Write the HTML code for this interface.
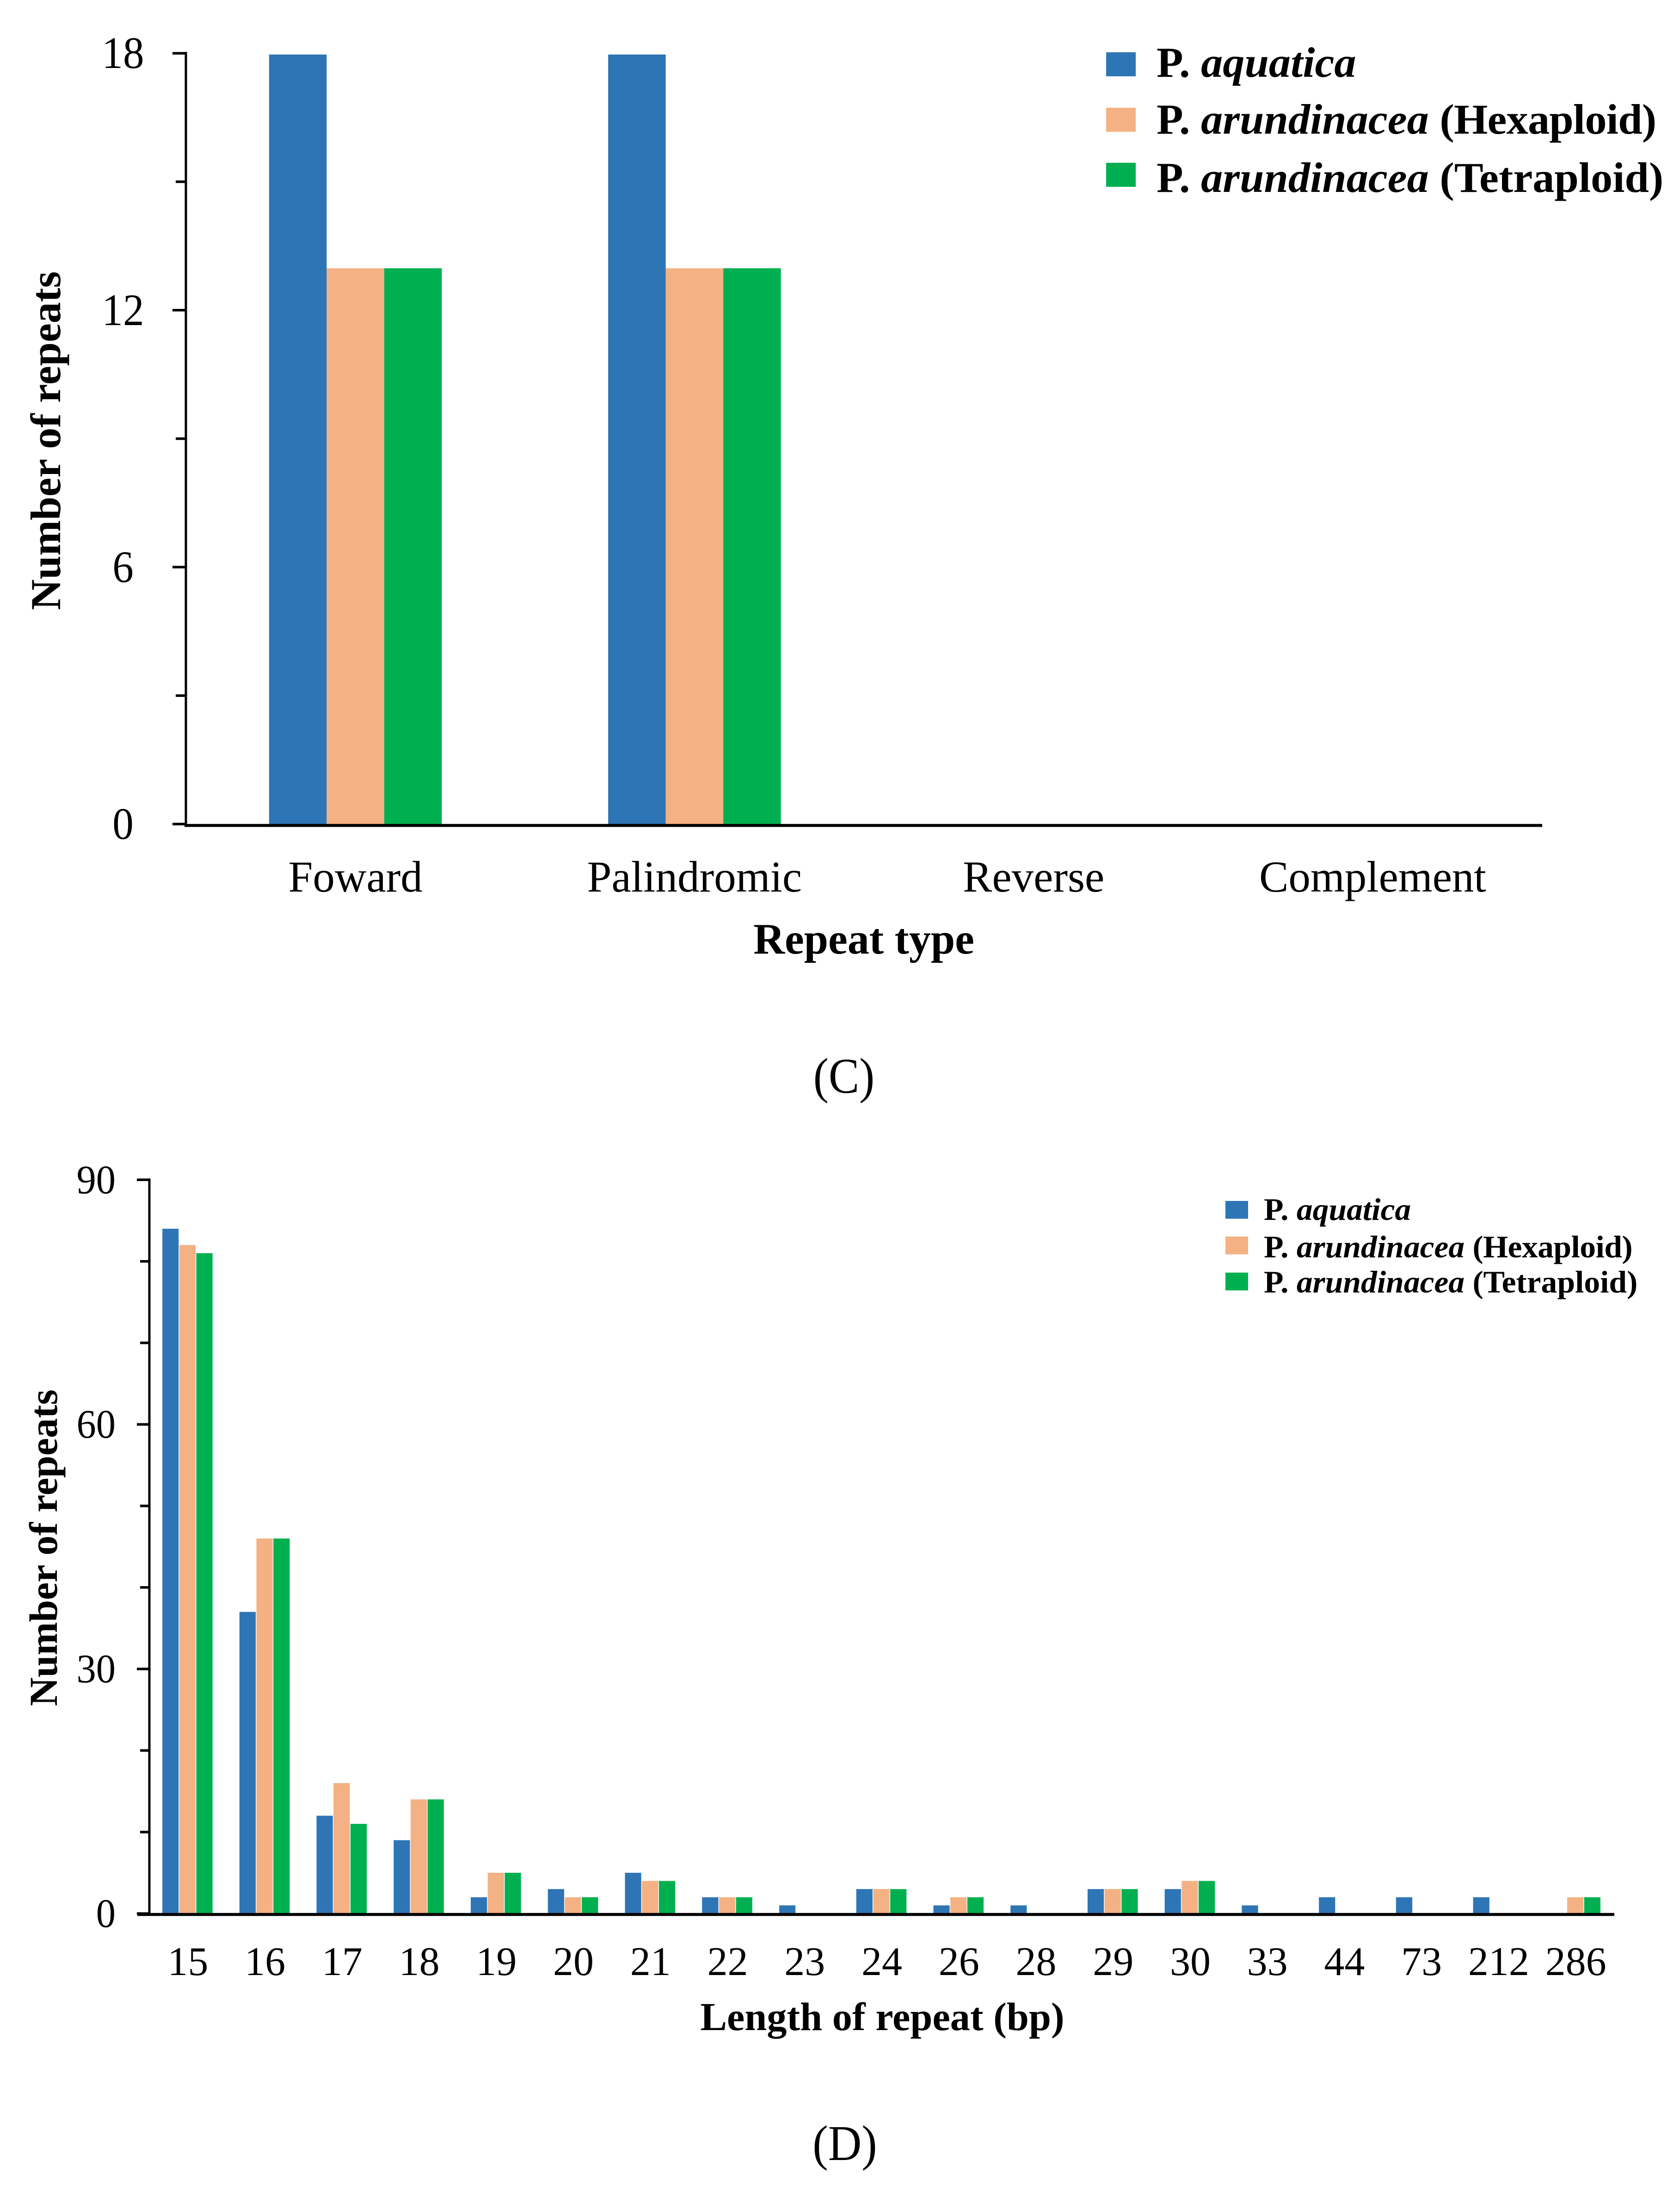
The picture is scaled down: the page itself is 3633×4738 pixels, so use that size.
<!DOCTYPE html>
<html lang="en">
<head>
<meta charset="utf-8">
<title>Repeat type and repeat length charts</title>
<style>
html,body{margin:0;padding:0;background:#fff;}
svg{display:block;}
text{font-family:"Liberation Serif","Times New Roman",serif;fill:#000;}
.b{font-weight:bold;}
.i{font-style:italic;}
</style>
</head>
<body>
<svg id="figure" xmlns="http://www.w3.org/2000/svg" width="3633" height="4738" viewBox="0 0 3633 4738">
  <rect x="0" y="0" width="3633" height="4738" fill="#ffffff"/>

  <g id="chart-c"></g>
  <g id="chart-d"></g>

  <text class="b" font-size="92" text-anchor="middle" transform="translate(130,953) rotate(-90)">Number of repeats</text>
  <text class="b" font-size="94" text-anchor="middle" x="1868" y="2062">Repeat type</text>
  <text font-size="108" text-anchor="middle" transform="translate(1825,2363) scale(0.92,1)">(C)</text>

  <g>
    <g>
      <rect x="2392" y="113" width="64" height="52" fill="#2e75b6"/>
      <text class="b" font-size="92.5" transform="translate(2501,166) scale(1.02,1)">P. <tspan class="i">aquatica</tspan></text>
    </g>
    <g>
      <rect x="2392" y="233" width="64" height="52" fill="#f4b183"/>
      <text class="b" font-size="92.5" transform="translate(2501,289) scale(1.02,1)">P. <tspan class="i">arundinacea</tspan> <tspan letter-spacing="-0.8">(Hexaploid)</tspan></text>
    </g>
    <g>
      <rect x="2392" y="352" width="64" height="52" fill="#00b050"/>
      <text class="b" font-size="92.5" transform="translate(2501,415) scale(1.02,1)">P. <tspan class="i">arundinacea</tspan> (Tetraploid)</text>
    </g>
  </g>

  <text class="b" font-size="86" text-anchor="middle" transform="translate(123,3347) rotate(-90)">Number of repeats</text>
  <text class="b" font-size="86" text-anchor="middle" transform="translate(1908,4390) scale(1.004,1)">Length of repeat (bp)</text>
  <text font-size="108" text-anchor="middle" transform="translate(1827,4671) scale(0.93,1)">(D)</text>

  <g>
    <g>
      <rect x="2650" y="2597" width="49" height="38.5" fill="#2e75b6"/>
      <text class="b" font-size="68" transform="translate(2733,2638) scale(1.023,1)">P. <tspan class="i">aquatica</tspan></text>
    </g>
    <g>
      <rect x="2650" y="2674" width="49" height="38.5" fill="#f4b183"/>
      <text class="b" font-size="68" transform="translate(2733,2719) scale(1.023,1)">P. <tspan class="i">arundinacea</tspan> <tspan letter-spacing="-0.55">(Hexaploid)</tspan></text>
    </g>
    <g>
      <rect x="2650" y="2752" width="49" height="38.5" fill="#00b050"/>
      <text class="b" font-size="68" transform="translate(2733,2795) scale(1.023,1)">P. <tspan class="i">arundinacea</tspan> (Tetraploid)</text>
    </g>
  </g>
</svg>

<script>
// Chart C data
const typeCategories = ['Foward', 'Palindromic', 'Reverse', 'Complement'];
const typeAquatica = [18, 18, 0, 0];
const typeHexaploid = [13, 13, 0, 0];
const typeTetraploid = [13, 13, 0, 0];
const typeTicks = [0, 3, 6, 9, 12, 15, 18];
const typeTickLabels = ['0', '', '6', '', '12', '', '18'];

// Chart D data
const lengthCategories = ['15', '16', '17', '18', '19', '20', '21', '22', '23', '24', '26', '28', '29', '30', '33', '44', '73', '212', '286'];
const lengthAquatica = [84, 37, 12, 9, 2, 3, 5, 2, 1, 3, 1, 1, 3, 3, 1, 2, 2, 2, 0];
const lengthHexaploid = [82, 46, 16, 14, 5, 2, 4, 2, 0, 3, 2, 0, 3, 4, 0, 0, 0, 0, 2];
const lengthTetraploid = [81, 46, 11, 14, 5, 2, 4, 2, 0, 3, 2, 0, 3, 4, 0, 0, 0, 0, 2];
const lengthTicks = [0, 10, 20, 30, 40, 50, 60, 70, 80, 90];
const lengthTickLabels = ['0', '', '', '30', '', '', '60', '', '', '90'];

const seriesKeys = ['aquatica', 'hexaploid', 'tetraploid'];
const seriesColors = ['#2e75b6', '#f4b183', '#00b050'];

const NS = 'http://www.w3.org/2000/svg';

function make(parent, tag, props) {
  const el = document.createElementNS(NS, tag);
  for (const k in props) el.setAttribute(k, props[k]);
  parent.appendChild(el);
  return el;
}

function drawChart(root, prefix, cfg) {
  const n = cfg.categories.length;
  const bandW = (cfg.plotRight - cfg.plotLeft) / n;
  const xCenter = function (i) { return cfg.plotLeft + bandW * (i + 0.5); };

  cfg.series.forEach(function (values, s) {
    values.forEach(function (v, i) {
      const yTop = cfg.barY(v);
      const x = xCenter(i) + cfg.barShift + (s - 1) * cfg.barStep - cfg.barWidth / 2;
      const bar = make(root, 'rect', { x: x, y: yTop, width: cfg.barWidth, height: Math.max(0, cfg.barY(0) - yTop), fill: seriesColors[s] });
      
      
    });
  });

  const yAxis = make(root, 'line', { x1: cfg.plotLeft, x2: cfg.plotLeft, y1: cfg.tickY(cfg.ticks[cfg.ticks.length - 1]) - 3, y2: cfg.axisY, stroke: '#000', 'stroke-width': cfg.yAxisWidth });
  
  

  const xAxis = make(root, 'line', { x1: cfg.xAxisStart, x2: cfg.plotRight, y1: cfg.axisY, y2: cfg.axisY, stroke: '#000', 'stroke-width': 6.5 });
  
  

  cfg.ticks.forEach(function (t, i) {
    const label = cfg.tickLabels[i];
    const major = label !== '';
    const y = cfg.tickY(t);
    const tick = make(root, 'line', { x1: cfg.plotLeft - (major ? cfg.majorLen : cfg.minorLen), x2: cfg.plotLeft, y1: y, y2: y, stroke: '#000', 'stroke-width': 5.5 });
    
    
    if (major) {
      const txt = make(root, 'text', { transform: 'translate(' + cfg.tickLabelX + ',' + (y + cfg.tickBaseline) + ') scale(' + cfg.tickScaleX + ',1)', 'font-size': cfg.tickFont, 'text-anchor': cfg.tickAnchor });
      txt.textContent = label;
      
      
    }
  });

  cfg.categories.forEach(function (c, i) {
    const txt = make(root, 'text', { x: xCenter(i) + cfg.catShift, y: cfg.catBaseline, 'font-size': cfg.catFont, 'text-anchor': 'middle' });
    txt.textContent = c;
    
    
  });
}

const cBarY = function (v) { return 1782 - v * 92.45; };
const cTickY = function (v) { return 1782 - v * 92.6; };
const dAxisY = function (v) { return 4138 - v * 17.63; };

drawChart(document.getElementById('chart-c'), 'chart-c', {
  categories: typeCategories,
  series: [typeAquatica, typeHexaploid, typeTetraploid],
  ticks: typeTicks,
  tickLabels: typeTickLabels,
  barY: cBarY,
  tickY: cTickY,
  plotLeft: 402,
  plotRight: 3335,
  xAxisStart: 399,
  axisY: 1785,
  yAxisWidth: 5,
  barWidth: 124.5,
  barStep: 124.5,
  barShift: 0,
  majorLen: 29,
  minorLen: 22,
  tickLabelX: 266,
  tickAnchor: 'middle',
  tickScaleX: 0.93,
  tickBaseline: 32,
  tickFont: 98,
  catBaseline: 1928,
  catFont: 95,
  catShift: 0
});

drawChart(document.getElementById('chart-d'), 'chart-d', {
  categories: lengthCategories,
  series: [lengthAquatica, lengthHexaploid, lengthTetraploid],
  ticks: lengthTicks,
  tickLabels: lengthTickLabels,
  barY: dAxisY,
  tickY: dAxisY,
  plotLeft: 323,
  plotRight: 3491,
  xAxisStart: 297,
  axisY: 4140,
  yAxisWidth: 5,
  barWidth: 35.2,
  barStep: 36.7,
  barShift: -1,
  majorLen: 27,
  minorLen: 20,
  tickLabelX: 250,
  tickAnchor: 'end',
  tickScaleX: 0.96,
  tickBaseline: 29,
  tickFont: 88,
  catBaseline: 4271,
  catFont: 88,
  catShift: 0
});
</script>
</body>
</html>
